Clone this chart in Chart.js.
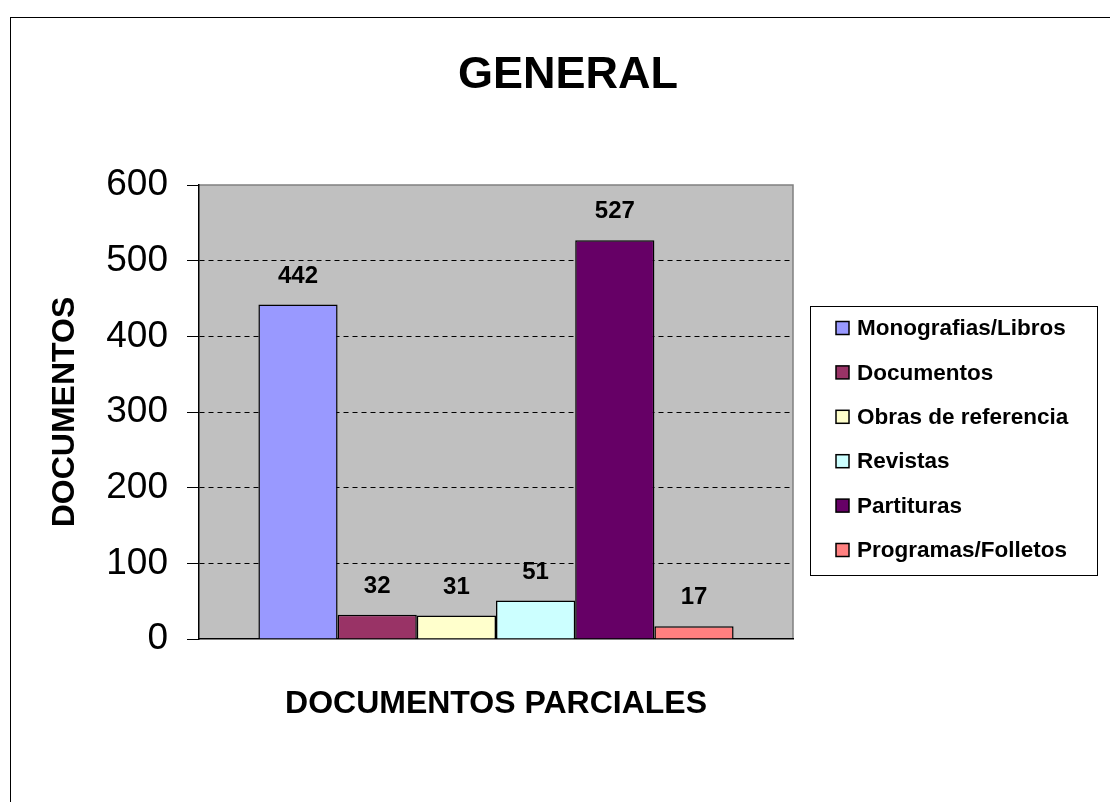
<!DOCTYPE html>
<html><head><meta charset="utf-8">
<script src="https://cdn.jsdelivr.net/npm/chart.js@4.4.0/dist/chart.umd.min.js"></script>
<style>html,body{margin:0;padding:0;background:#fff;overflow:hidden;} #wrap{width:1110px;height:802px;position:relative;}</style>
</head><body><div id="wrap"><canvas id="c" width="1110" height="802"></canvas></div>
<script>
const categories = [''];
const seriesLabels = ['Monografias/Libros','Documentos','Obras de referencia','Revistas','Partituras','Programas/Folletos'];
const seriesValues = [442, 32, 31, 51, 527, 17];
const seriesColors = ['#9999FF','#993366','#FFFFCC','#CCFFFF','#660066','#FF8080'];
const yTicks = [0, 100, 200, 300, 400, 500, 600];
const chartTitle = 'GENERAL';
const yTitle = 'DOCUMENTOS';
const xTitle = 'DOCUMENTOS PARCIALES';

const FONT = '"Liberation Sans", Arial, Helvetica, sans-serif';
Chart.defaults.font.family = FONT;
Chart.defaults.color = '#000';

const decor = {
  id: 'decor',
  beforeDraw(chart) {
    const {ctx, chartArea: a} = chart;
    ctx.save();
    ctx.fillStyle = '#fff';
    ctx.fillRect(0, 0, chart.width, chart.height);
    // outer frame
    ctx.strokeStyle = '#000';
    ctx.lineWidth = 1;
    ctx.strokeRect(10.5, 17.5, 1400, 1200);
    // plot area
    ctx.fillStyle = '#C0C0C0';
    ctx.fillRect(a.left, a.top, a.right - a.left, a.bottom - a.top);
    ctx.strokeStyle = '#808080';
    ctx.lineWidth = 1.5;
    ctx.beginPath();
    ctx.moveTo(a.left, a.top);
    ctx.lineTo(a.right, a.top);
    ctx.lineTo(a.right, a.bottom);
    ctx.stroke();
    ctx.restore();
  },
  afterDatasetsDraw(chart) {
    const {ctx} = chart;
    ctx.save();
    ctx.font = 'bold 24px ' + FONT;
    ctx.fillStyle = '#000';
    ctx.textAlign = 'center';
    ctx.textBaseline = 'middle';
    chart.data.datasets.forEach((ds, i) => {
      const meta = chart.getDatasetMeta(i);
      const bar = meta.data[0];
      ctx.fillText(String(ds.data[0]), bar.x, bar.y - 28.5);
    });
    ctx.restore();
  },
  afterDraw(chart) {
    const {ctx} = chart;
    ctx.save();
    // title
    ctx.font = 'bold 45px ' + FONT;
    ctx.fillStyle = '#000';
    ctx.textAlign = 'center';
    ctx.textBaseline = 'middle';
    ctx.fillText(chartTitle, 568, 76);
    // legend
    const lx = 810, ly = 306, lw = 287, lh = 269;
    ctx.fillStyle = '#fff';
    ctx.fillRect(lx, ly, lw, lh);
    ctx.strokeStyle = '#000';
    ctx.lineWidth = 1;
    ctx.strokeRect(lx + 0.5, ly + 0.5, lw, lh);
    ctx.font = 'bold 22.5px ' + FONT;
    ctx.textAlign = 'left';
    ctx.textBaseline = 'middle';
    chart.data.datasets.forEach((ds, i) => {
      const cy = 328 + i * 44.4;
      ctx.fillStyle = ds.backgroundColor;
      ctx.fillRect(836, cy - 6.5, 13, 13);
      ctx.strokeStyle = '#000';
      ctx.lineWidth = 1.5;
      ctx.strokeRect(836, cy - 6.5, 13, 13);
      ctx.fillStyle = '#000';
      ctx.fillText(ds.label, 857, cy + 1);
    });
    ctx.restore();
  }
};

const datasets = seriesLabels.map((lab, i) => ({
  label: lab,
  data: [seriesValues[i]],
  backgroundColor: seriesColors[i],
  borderColor: '#000',
  borderWidth: 1.5,
  categoryPercentage: 0.8,
  barPercentage: 1.0
}));

new Chart(document.getElementById('c'), {
  type: 'bar',
  data: { labels: categories, datasets },
  plugins: [decor],
  options: {
    responsive: false,
    animation: false,
    devicePixelRatio: 1,
    layout: { padding: { left: 0, top: 185, right: 317, bottom: 0 } },
    plugins: { legend: { display: false }, title: { display: false }, tooltip: { enabled: false } },
    scales: {
      x: {
        ticks: { display: false },
        grid: { display: false, drawTicks: false },
        border: { display: true, color: '#000', width: 1.5 },
        title: { display: true, text: xTitle, font: { size: 32, weight: 'bold' }, color: '#000', padding: { top: 0, bottom: 79 } },
        afterFit(scale) { scale.height = 163; }
      },
      y: {
        min: 0, max: 600,
        afterBuildTicks(scale) { scale.ticks = yTicks.map(v => ({ value: v })); },
        ticks: { font: { size: 37 }, color: '#000', padding: 19 },
        grid: {
          color: (c) => (c.tick && (c.tick.value === 0 || c.tick.value === 600)) ? 'rgba(0,0,0,0)' : '#000',
          tickColor: '#000',
          tickLength: 12,
          lineWidth: 1,
          tickBorderDash: [1, 0]
        },
        border: { display: true, color: '#000', width: 1.5, dash: [5, 4] },
        title: { display: true, text: yTitle, font: { size: 32, weight: 'bold' }, color: '#000', padding: { top: 46, bottom: 0 } },
        afterFit(scale) { scale.width = 199; }
      }
    }
  }
});
</script>
</body></html>
